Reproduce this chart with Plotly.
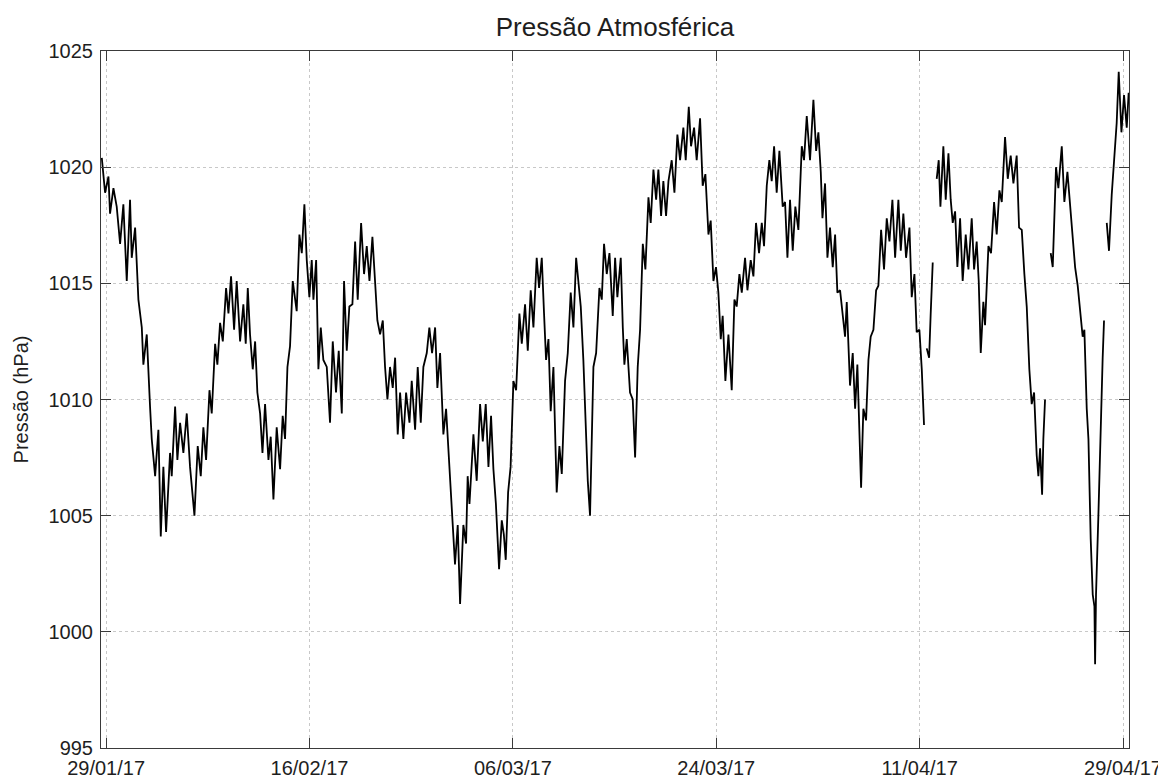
import plotly.graph_objects as go
from datetime import datetime, timedelta

# ---- data (days after 29/01/17 00:00, pressure in hPa; None = data gap) ----
base_date = "2017-01-29"

day_offset = [
    -0.38, -0.09, 0.21, 0.35, 0.65, 0.94, 1.24, 1.53, 1.83, 2.12, 2.27, 2.57, 2.86, 3.16, 3.30, 3.60,
    3.89, 4.04, 4.34, 4.63, 4.84, 5.07, 5.31, 5.66, 5.81, 6.11, 6.31, 6.55, 6.84, 7.14, 7.43, 7.82,
    8.11, 8.38, 8.61, 8.85, 9.15, 9.35, 9.65, 9.85, 10.09, 10.33, 10.62, 10.83, 11.06, 11.33, 11.56, 11.86,
    12.15, 12.36, 12.54, 12.74, 12.98, 13.19, 13.39, 13.63, 13.84, 14.07, 14.37, 14.57, 14.81, 15.10, 15.40, 15.63,
    15.84, 16.05, 16.28, 16.52, 16.87, 17.11, 17.32, 17.55, 17.76, 17.99, 18.20, 18.35, 18.59, 18.79, 19.00, 19.23,
    19.53, 19.82, 20.06, 20.35, 20.59, 20.86, 21.06, 21.30, 21.53, 21.80, 22.04, 22.27, 22.57, 22.83, 23.07, 23.31,
    23.57, 23.81, 24.01, 24.25, 24.49, 24.69, 24.90, 25.13, 25.37, 25.58, 25.81, 26.02, 26.31, 26.55, 26.85, 27.05,
    27.35, 27.58, 27.85, 28.08, 28.38, 28.61, 28.85, 29.12, 29.32, 29.56, 29.85,
    30.09, 30.39, 30.62, 30.88, 31.12, 31.33, 31.62, 31.86, 32.00, 32.16, 32.51, 32.80, 33.10, 33.34, 33.60, 33.84,
    34.07, 34.28, 34.50, 34.78, 35.02, 35.20, 35.37, 35.58, 35.80, 36.05, 36.29, 36.58, 36.79, 37.08, 37.32, 37.58,
    37.82, 38.11, 38.32, 38.56, 38.76, 38.94, 39.15, 39.35, 39.59, 39.88, 40.12, 40.33, 40.62, 40.86, 41.12, 41.36,
    41.60, 41.80, 42.01, 42.24, 42.48, 42.63, 42.83, 42.98, 43.13, 43.37, 43.66, 43.87, 44.07, 44.31, 44.55, 44.84,
    45.05, 45.25, 45.55, 45.73, 45.87, 46.08, 46.37, 46.61, 46.82, 47.05, 47.26, 47.50, 47.73, 48.00, 48.20, 48.44,
    48.68, 48.88, 49.12, 49.32, 49.56, 49.77, 50.06, 50.30, 50.56, 50.80, 51.09, 51.30, 51.57, 51.77, 52.04, 52.27,
    52.57, 52.80, 53.04, 53.31, 53.51, 53.75, 53.98, 54.19, 54.40, 54.57, 54.81, 55.08, 55.37, 55.61, 55.81, 56.05,
    56.26, 56.55, 56.76, 57.05, 57.29, 57.52, 57.79, 58.03, 58.23, 58.47, 58.70, 58.91, 59.12, 59.35, 59.59, 59.88,
    60.09, 60.30, 60.53, 60.77, 61.00, 61.27, 61.57, 61.77, 62.01, 62.30, 62.60, 62.84, 63.04, 63.25, 63.40, 63.63,
    63.84, 64.07, 64.31, 64.52, 64.72, 64.96, 65.20, 65.40, 65.55, 65.84, 66.08, 66.29, 66.49, 66.64, 66.82, 67.02,
    67.26, 67.47, 67.67, 67.91, 68.15, 68.35, 68.59, 68.85, 69.09, 69.33, 69.59, 69.83, 70.12, 70.33, 70.56, 70.80,
    71.10, 71.30, 71.54, 71.74, 71.98, 72.19, 72.39,
    72.50,
    72.63, 72.84, 72.98, 73.16,
    73.30,
    73.51, 73.69, 73.84, 74.10, 74.31, 74.55, 74.75, 74.93, 75.14, 75.34, 75.58, 75.81, 76.08, 76.32, 76.61, 76.82,
    77.05, 77.23, 77.41, 77.64, 77.79, 78.09, 78.32, 78.59, 78.82, 79.06, 79.27, 79.56, 79.80, 80.06, 80.30, 80.59,
    80.80, 81.04, 81.27, 81.48, 81.71, 81.92, 82.13, 82.36, 82.51, 82.66, 82.84, 82.95, 83.10,
    83.30,
    83.60, 83.78, 84.07, 84.28, 84.58, 84.81, 85.08, 85.31, 85.55, 85.76, 85.99, 86.20, 86.43, 86.58, 86.79, 86.94,
    87.14, 87.32, 87.47, 87.53, 87.61, 87.82, 88.03, 88.20, 88.32,
    88.45,
    88.56, 88.76, 89.00, 89.24, 89.44, 89.62, 89.86, 90.09, 90.33, 90.50,
]

pressure = [
    1020.4, 1018.9, 1019.6, 1018.0, 1019.1, 1018.3, 1016.7, 1018.4, 1015.1, 1018.6, 1016.1, 1017.4, 1014.3, 1013.1, 1011.5, 1012.8,
    1009.7, 1008.3, 1006.7, 1008.7, 1004.1, 1007.1, 1004.3, 1007.7, 1006.7, 1009.7, 1007.4, 1009.0, 1007.7, 1009.4, 1007.1, 1005.0,
    1008.0, 1006.7, 1008.8, 1007.4, 1010.4, 1009.4, 1012.4, 1011.5, 1013.3, 1012.5, 1014.8, 1013.7, 1015.3, 1013.0, 1015.1, 1012.5,
    1014.1, 1012.4, 1014.8, 1012.8, 1011.3, 1012.5, 1010.3, 1009.4, 1007.7, 1009.8, 1007.4, 1008.4, 1005.7, 1008.8, 1007.0, 1009.3,
    1008.3, 1011.4, 1012.3, 1015.1, 1013.8, 1017.1, 1016.3, 1018.4, 1016.0, 1014.4, 1016.0, 1014.3, 1016.0, 1011.3, 1013.1, 1011.7,
    1011.4, 1009.0, 1012.5, 1010.3, 1012.1, 1009.4, 1015.1, 1012.1, 1014.0, 1014.1, 1016.8, 1014.3, 1017.6, 1015.4, 1016.6, 1015.1,
    1017.0, 1014.8, 1013.4, 1012.8, 1013.4, 1011.4, 1010.0, 1011.4, 1010.5, 1011.8, 1008.5, 1010.3, 1008.3, 1010.3, 1009.0, 1010.8,
    1008.7, 1011.4, 1009.0, 1011.4, 1012.0, 1013.1, 1012.0, 1013.1, 1010.5, 1012.0, 1008.5,
    1009.6, 1007.1, 1005.2, 1002.9, 1004.6, 1001.2, 1004.6, 1003.8, 1006.7, 1005.5, 1008.5, 1006.5, 1009.8, 1008.2, 1009.8, 1007.1,
    1009.3, 1007.0, 1005.5, 1002.7, 1004.8, 1004.2, 1003.1, 1006.0, 1007.1, 1010.8, 1010.4, 1013.7, 1012.4, 1014.1, 1012.1, 1014.7,
    1013.1, 1016.1, 1014.8, 1016.1, 1013.7, 1011.7, 1012.6, 1009.5, 1011.4, 1006.0, 1008.0, 1006.8, 1010.8, 1012.0, 1014.6, 1013.1,
    1016.1, 1015.1, 1014.0, 1011.7, 1008.2, 1006.5, 1005.0, 1008.4, 1011.4, 1012.0, 1014.8, 1014.3, 1016.7, 1015.4, 1016.3, 1013.6,
    1016.1, 1014.4, 1016.1, 1013.1, 1011.5, 1012.6, 1010.3, 1010.0, 1007.5, 1011.4, 1013.0, 1016.7, 1015.6, 1018.7, 1017.6, 1019.9,
    1018.6, 1019.9, 1017.9, 1019.4, 1017.9, 1019.4, 1020.3, 1018.9, 1021.4, 1020.3, 1021.7, 1020.3, 1022.6, 1020.9, 1021.7, 1020.3,
    1022.1, 1019.2, 1019.7, 1017.1, 1017.7, 1015.1, 1015.7, 1014.6, 1012.6, 1013.6, 1010.8, 1012.8, 1010.4, 1014.3, 1014.0, 1015.4,
    1014.6, 1016.1, 1014.7, 1016.0, 1015.3, 1017.6, 1016.3, 1017.6, 1016.6, 1019.2, 1020.3, 1019.4, 1020.9, 1018.9, 1020.7, 1018.3,
    1018.5, 1016.1, 1018.6, 1016.4, 1018.3, 1017.3, 1020.9, 1020.3, 1022.2, 1020.3, 1022.9, 1020.7, 1021.5, 1019.8, 1017.8, 1019.3,
    1016.1, 1017.4, 1015.7, 1017.1, 1014.6, 1014.7, 1013.7, 1012.7, 1014.2, 1010.6, 1012.0, 1009.6, 1011.5, 1009.3, 1006.2, 1009.6,
    1009.1, 1011.7, 1012.7, 1013.0, 1014.7, 1014.9, 1017.3, 1015.6, 1017.8, 1016.8, 1018.6, 1016.1, 1018.6, 1016.4, 1018.0, 1016.1,
    1017.4, 1014.4, 1015.4, 1012.9, 1013.0, 1011.3, 1008.9,
    None,
    1012.2, 1011.8, 1013.7, 1015.9,
    None,
    1019.5, 1020.3, 1018.3, 1020.9, 1018.6, 1020.6, 1018.6, 1017.6, 1018.1, 1015.7, 1017.8, 1015.1, 1017.1, 1015.6, 1017.8, 1015.6,
    1016.8, 1015.1, 1012.0, 1014.2, 1013.2, 1016.6, 1016.3, 1018.5, 1017.1, 1019.0, 1018.5, 1021.3, 1019.5, 1020.5, 1019.3, 1020.5,
    1017.4, 1017.3, 1015.4, 1014.0, 1011.3, 1009.8, 1010.3, 1007.6, 1006.7, 1007.9, 1005.9, 1008.3, 1010.0,
    None,
    1016.3, 1015.7, 1020.0, 1019.1, 1020.9, 1018.5, 1019.8, 1018.5, 1016.8, 1015.7, 1014.9, 1013.9, 1012.7, 1013.0, 1009.6, 1008.3,
    1004.0, 1001.6, 1001.1, 998.6, 1001.6, 1005.0, 1009.3, 1011.8, 1013.4,
    None,
    1017.6, 1016.4, 1018.8, 1020.5, 1021.9, 1024.1, 1021.5, 1023.1, 1021.7, 1023.2,
]

tick_dates = ["2017-01-29", "2017-02-16", "2017-03-06", "2017-03-24", "2017-04-11", "2017-04-29"]
tick_labels = ["29/01/17", "16/02/17", "06/03/17", "24/03/17", "11/04/17", "29/04/17"]
y_ticks = [995, 1000, 1005, 1010, 1015, 1020, 1025]

# ---- build ----
t0 = datetime.strptime(base_date, "%Y-%m-%d")
times = [t0 + timedelta(days=d) for d in day_offset]
x_start = t0 + timedelta(days=-0.45)
x_end = t0 + timedelta(days=90.53)

FONT = "Liberation Sans, Arial, Helvetica, sans-serif"
AX = "#3a3a3a"
TXT = "#1e1e1e"

# the page body keeps an 8 px margin, so the figure is sized to fit inside it
W, H = 1158, 770

fig = go.Figure(
    go.Scatter(
        x=times, y=pressure, mode="lines",
        line=dict(color="#000000", width=1.8),
        connectgaps=False, showlegend=False,
    )
)

fig.update_layout(
    width=W, height=H,
    paper_bgcolor="white", plot_bgcolor="white",
    margin=dict(l=93, r=37, t=43, b=30),
    font=dict(family=FONT, size=20, color=TXT),
    title=dict(
        text="Pressão Atmosférica", x=0.5, xref="paper", xanchor="center",
        y=1 - 19 / H, yref="container", yanchor="middle",
        font=dict(family=FONT, size=26, color=TXT),
    ),
)

fig.update_xaxes(
    type="date", range=[x_start, x_end], automargin=False,
    tickvals=tick_dates, ticktext=tick_labels,
    ticks="inside", ticklen=10, tickwidth=1, tickcolor=AX,
    showline=True, linecolor=AX, linewidth=1, mirror="ticks",
    showgrid=True, gridcolor="#c8c8c8", griddash="dot", gridwidth=1,
    zeroline=False, tickfont=dict(size=20, color=TXT), ticklabelstandoff=2,
)
fig.update_yaxes(
    range=[995, 1025], automargin=False,
    tickvals=y_ticks,
    ticks="inside", ticklen=10, tickwidth=1, tickcolor=AX,
    showline=True, linecolor=AX, linewidth=1, mirror="ticks",
    showgrid=True, gridcolor="#c8c8c8", griddash="dot", gridwidth=1,
    zeroline=False, tickfont=dict(size=20, color=TXT), ticklabelstandoff=3,
    title=dict(text="Pressão (hPa)", font=dict(size=20, color=TXT), standoff=14),
)

fig.write_html("out.html")
